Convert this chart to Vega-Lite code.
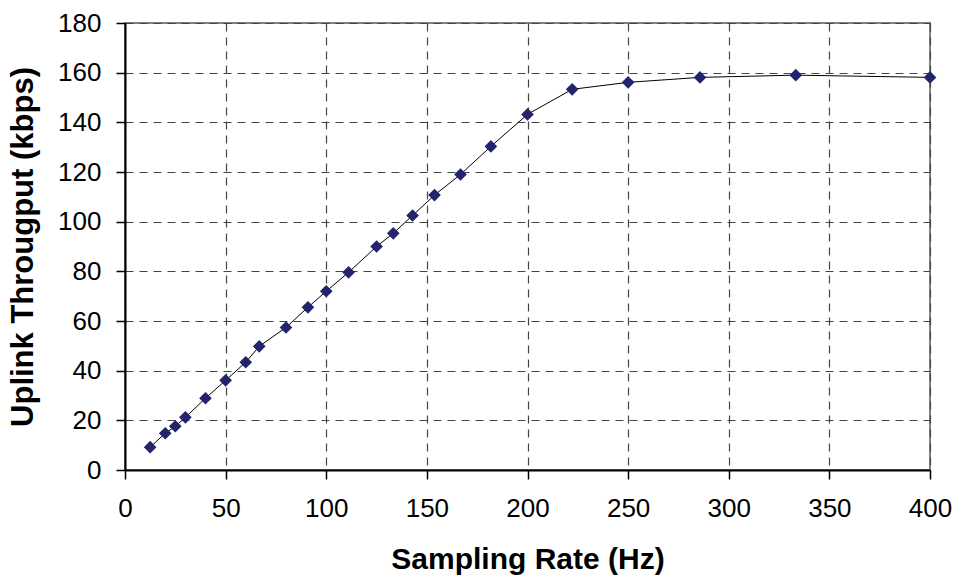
{
  "$schema": "https://vega.github.io/schema/vega-lite/v6.json",
  "autosize": "none",
  "width": 805,
  "height": 447,
  "padding": {"left": 125, "top": 23, "right": 31, "bottom": 109},
  "background": "white",
  "config": {
    "font": "Liberation Sans",
    "view": {"stroke": "#808080", "strokeWidth": 2}
  },
  "data": {
    "values": [
      {"rate": 12.5, "tp": 9.2},
      {"rate": 20, "tp": 14.8},
      {"rate": 25, "tp": 17.6},
      {"rate": 30, "tp": 21.2},
      {"rate": 40, "tp": 28.9},
      {"rate": 50, "tp": 36.1},
      {"rate": 60, "tp": 43.4},
      {"rate": 66.7, "tp": 49.8},
      {"rate": 80, "tp": 57.4},
      {"rate": 90.9, "tp": 65.5},
      {"rate": 100, "tp": 72},
      {"rate": 111.1, "tp": 79.6},
      {"rate": 125, "tp": 90},
      {"rate": 133.3, "tp": 95.3},
      {"rate": 142.9, "tp": 102.5},
      {"rate": 153.8, "tp": 110.7},
      {"rate": 166.7, "tp": 119},
      {"rate": 181.8, "tp": 130.3},
      {"rate": 200, "tp": 143.2},
      {"rate": 222.2, "tp": 153.3},
      {"rate": 250, "tp": 156.1},
      {"rate": 285.7, "tp": 158.1},
      {"rate": 333.3, "tp": 159},
      {"rate": 400, "tp": 158.1}
    ]
  },
  "encoding": {
    "x": {
      "field": "rate", "type": "quantitative",
      "scale": {"domain": [0, 400], "nice": false, "zero": false},
      "axis": {
        "title": "Sampling Rate (Hz)", "values": [0, 50, 100, 150, 200, 250, 300, 350, 400],
        "titleFont": "Liberation Sans", "titleFontSize": 30, "titleFontWeight": "bold", "titleColor": "black", "titlePadding": 23,
        "labelFont": "Liberation Sans", "labelFontSize": 26, "labelColor": "black", "labelPadding": 16, "labelFlush": false,
        "domainColor": "black", "domainWidth": 2, "tickColor": "black", "tickSize": 9, "tickWidth": 1.5,
        "grid": true, "gridColor": "#444444", "gridDash": [8, 6], "gridWidth": 1.2
      }
    },
    "y": {
      "field": "tp", "type": "quantitative",
      "scale": {"domain": [0, 180], "nice": false},
      "axis": {
        "title": "Uplink Througput (kbps)", "values": [0, 20, 40, 60, 80, 100, 120, 140, 160, 180],
        "titleFont": "Liberation Sans", "titleFontSize": 31, "titleFontWeight": "bold", "titleColor": "black", "titlePadding": 18,
        "labelFont": "Liberation Sans", "labelFontSize": 26, "labelColor": "black", "labelPadding": 15, "labelFlush": false,
        "domainColor": "black", "domainWidth": 2, "tickColor": "black", "tickSize": 9, "tickWidth": 1.5,
        "grid": true, "gridColor": "#444444", "gridDash": [8, 6], "gridWidth": 1.2
      }
    }
  },
  "layer": [
    {"mark": {"type": "line", "color": "black", "strokeWidth": 1}},
    {"mark": {"type": "point", "shape": "diamond", "filled": true, "size": 160, "color": "#24246E", "opacity": 1}}
  ]
}
